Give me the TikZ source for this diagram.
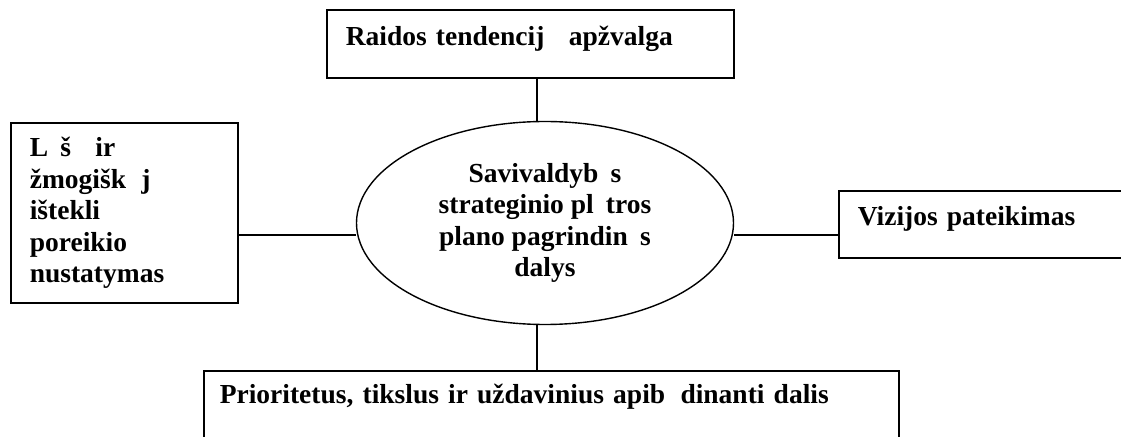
\documentclass[tikz,border=0pt]{standalone}
\usepackage{fontspec}
\setmainfont{Liberation Serif}
\usetikzlibrary{shapes.geometric}
\newcommand{\nc}[1]{\phantom{#1}}

\begin{document}
\begin{tikzpicture} [x=1bp, y=-1bp, line width=1.1bp] %strategic plan parts
\tikzset{box/.style={draw, line width=1.6bp, anchor=north west, align=left, inner xsep=19bp, inner ysep=0pt, font=\bfseries\fontsize{27.5bp}{31.5bp}\selectfont}}
\useasboundingbox (0,0) rectangle (1121,437);
\node [box, text width=369bp, text height=36bp, text depth=32bp] (raida) at (326,9) {Raidos tendencij\nc{u} apžvalga};
\node [box, text width=189bp, minimum height=180bp] (istekliai) at (10,122) {L\nc{e}š\nc{u} ir\\žmogišk\nc{u}j\nc{u}\\ištekli\nc{u}\\poreikio\\nustatymas};
\node [box, text width=300bp, text height=35bp, text depth=32bp] (vizija) at (838,190) {Vizijos pateikimas};
\node [box, inner xsep=16bp, text width=663bp, text height=33bp, text depth=60bp] (tikslai) at (203,370) {Prioritetus, tikslus ir uždavinius apib\nc{u}dinanti dalis};
\node [ellipse, draw, line width=1.4bp, minimum width=377bp, minimum height=203bp, inner sep=-12bp, align=center, font=\bfseries\fontsize{27.5bp}{31.5bp}\selectfont] (plan) at (545,223) {Savivaldyb\nc{e}s\\strateginio pl\nc{e}tros\\plano pagrindin\nc{e}s\\dalys};
\coordinate (hub) at (537,235);
\draw (raida.south -| hub) -- (plan.north -| hub);
\draw (plan.south -| hub) -- (tikslai.north -| hub);
\draw (istekliai.east |- hub) -- (plan.west |- hub);
\draw (plan.east |- hub) -- (vizija.west |- hub);
\end{tikzpicture}
\end{document}
